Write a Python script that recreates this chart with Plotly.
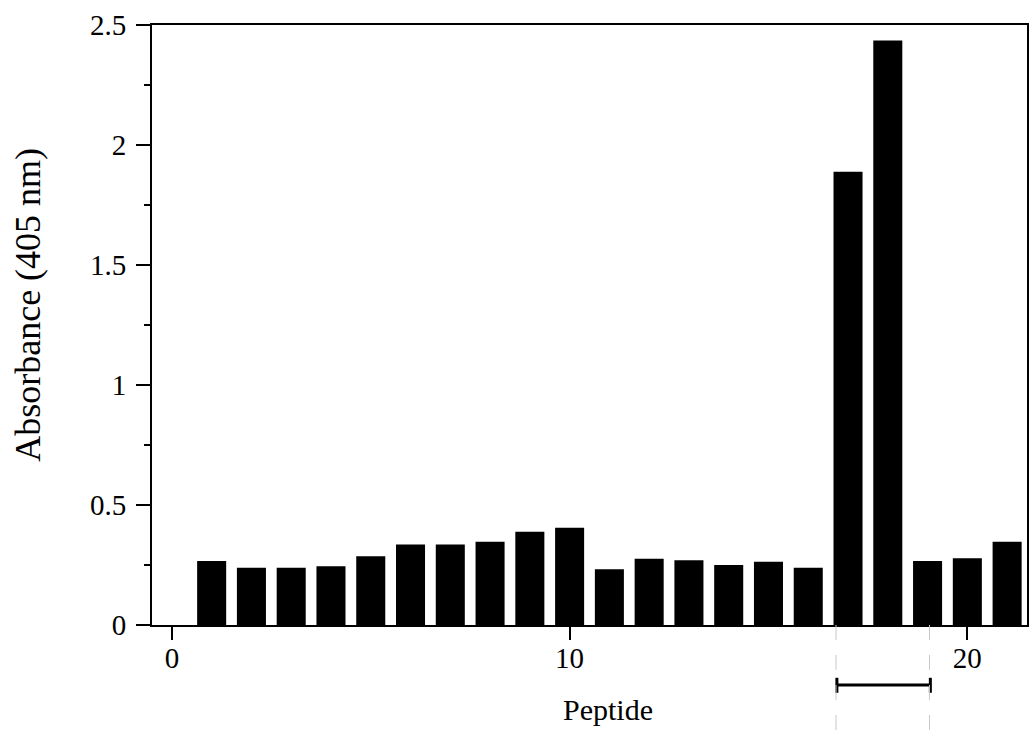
import plotly.graph_objects as go

# ---- data ----
peptides = list(range(1, 22))
absorbance = [0.267, 0.239, 0.239, 0.245, 0.286, 0.335, 0.335, 0.347, 0.389, 0.405,
              0.232, 0.276, 0.270, 0.250, 0.264, 0.239, 1.889, 2.435, 0.267, 0.278, 0.347]
x_tick_vals = [0, 10, 20]
y_tick_vals = [0, 0.5, 1, 1.5, 2, 2.5]
y_tick_text = ["0", "0.5", "1", "1.5", "2", "2.5"]
y_minor_vals = [0.25, 0.75, 1.25, 1.75, 2.25]
bracket_range = [16.72, 19.07]  # peptides marked below the axis

XMIN, XMAX = -0.5, 21.5
YMIN, YMAX = 0, 2.5
FONT = "Liberation Serif, Times New Roman, serif"


def xpaper(v):
    return (v - XMIN) / (XMAX - XMIN)


fig = go.Figure(
    go.Bar(
        x=peptides,
        y=absorbance,
        width=0.73,
        marker=dict(color="black", line=dict(width=0)),
    )
)

axis_common = dict(
    showline=True,
    linewidth=2,
    linecolor="black",
    mirror=True,
    showgrid=False,
    zeroline=False,
    ticks="outside",
    tickwidth=2,
    tickcolor="black",
    tickfont=dict(family=FONT, size=29, color="black"),
)

fig.update_layout(
    width=1031,
    height=739,
    margin=dict(l=152, r=2, t=25, b=114),
    plot_bgcolor="white",
    paper_bgcolor="white",
    showlegend=False,
    font=dict(family=FONT, color="black"),
    xaxis=dict(
        range=[XMIN, XMAX],
        tickvals=x_tick_vals,
        ticklen=13,
        ticklabelstandoff=-7,
        **axis_common,
    ),
    yaxis=dict(
        range=[YMIN, YMAX],
        tickvals=y_tick_vals,
        ticktext=y_tick_text,
        ticklen=14,
        ticklabelstandoff=4,
        minor=dict(tickvals=y_minor_vals, ticks="outside", ticklen=6,
                   tickwidth=2, tickcolor="black"),
        **axis_common,
    ),
)

# axis titles
fig.add_annotation(text="Peptide", xref="paper", yref="paper",
                   x=0.521, y=-0.140, showarrow=False,
                   xanchor="center", yanchor="middle",
                   font=dict(family=FONT, size=30, color="black"))
fig.add_annotation(text="Absorbance (405 nm)", xref="paper", yref="paper",
                   x=-0.141, y=0.533, showarrow=False, textangle=-90,
                   xanchor="center", yanchor="middle",
                   font=dict(family=FONT, size=36, color="black"))

# bracket below the axis marking the reactive peptides
x0, x1 = xpaper(bracket_range[0]), xpaper(bracket_range[1])
fig.add_shape(type="line", xref="paper", yref="paper", x0=x0, x1=x1,
              y0=-0.100, y1=-0.100, line=dict(color="black", width=3))
for xv in (x0, x1):
    fig.add_shape(type="line", xref="paper", yref="paper", x0=xv, x1=xv,
                  y0=-0.088, y1=-0.113, line=dict(color="black", width=3))
    # faint guide lines running down from the axis
    fig.add_shape(type="line", xref="paper", yref="paper", x0=xv - 0.001, x1=xv - 0.001,
                  y0=0, y1=-0.19, line=dict(color="#c8c8c8", width=1, dash="longdash"))

fig.write_html("out.html")
